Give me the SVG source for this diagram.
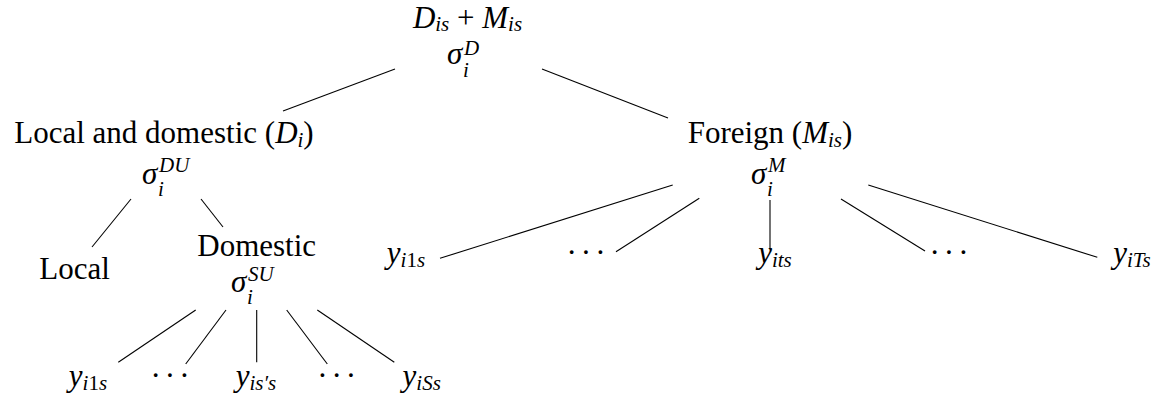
<svg xmlns="http://www.w3.org/2000/svg" width="1164" height="400" viewBox="0 0 1164 400">
<style>
.t{font-family:'Liberation Serif','DejaVu Serif','Times New Roman',serif;font-size:31px;fill:#000}
.m{font-style:italic}
.s{font-size:21px}
.u{font-style:normal}
.d{letter-spacing:4px}
.c line{stroke:#000;stroke-width:1.1;fill:none}
</style>
<rect width="1164" height="400" fill="#fff"/>
<g class="c" id="connectors">
<line x1="395" y1="69" x2="283" y2="111"/>
<line x1="542" y1="69" x2="668" y2="118"/>
<line x1="131" y1="199" x2="92" y2="247"/>
<line x1="201" y1="199" x2="223" y2="227"/>
<line x1="195.7" y1="310" x2="118.3" y2="362.3"/>
<line x1="226" y1="310" x2="185.7" y2="364"/>
<line x1="256.7" y1="310" x2="256.7" y2="362.3"/>
<line x1="286.7" y1="310" x2="327.3" y2="364"/>
<line x1="317.3" y1="310" x2="394.3" y2="362.3"/>
<line x1="672.7" y1="185" x2="440" y2="258.3"/>
<line x1="699.3" y1="198.3" x2="616" y2="251.7"/>
<line x1="770" y1="200" x2="770" y2="249"/>
<line x1="841" y1="199" x2="925" y2="251"/>
<line x1="868.3" y1="185" x2="1097.3" y2="257.3"/>
</g>
<g id="root" class="t">
<text x="467.5" y="28" text-anchor="middle"><tspan class="m">D</tspan><tspan class="m s" dy="3">is</tspan><tspan dy="-3"> + </tspan><tspan class="m">M</tspan><tspan class="m s" dy="3">is</tspan></text>
<text x="447" y="64" class="m">σ<tspan class="s" x="464" y="55">D</tspan><tspan class="s" x="463" y="77">i</tspan></text>
</g>
<g id="local-domestic" class="t">
<text x="164" y="143" text-anchor="middle">Local and domestic (<tspan class="m">D</tspan><tspan class="m s" dy="4">i</tspan><tspan dy="-4">)</tspan></text>
<text x="142" y="184" class="m">σ<tspan class="s" x="159" y="172">DU</tspan><tspan class="s" x="158" y="196">i</tspan></text>
</g>
<g id="foreign" class="t">
<text x="770" y="143" text-anchor="middle">Foreign (<tspan class="m">M</tspan><tspan class="m s" dy="4">is</tspan><tspan dy="-4">)</tspan></text>
<text x="751" y="184" class="m">σ<tspan class="s" x="768" y="172">M</tspan><tspan class="s" x="767" y="196">i</tspan></text>
</g>
<g id="local" class="t">
<text x="74.5" y="279" text-anchor="middle">Local</text>
</g>
<g id="domestic" class="t">
<text x="256.7" y="256" text-anchor="middle">Domestic</text>
<text x="231" y="292" class="m">σ<tspan class="s" x="248" y="281">SU</tspan><tspan class="s" x="247" y="304">i</tspan></text>
</g>
<g id="d-y-i1s" class="t"><text x="88" y="386" text-anchor="middle"><tspan class="m">y</tspan><tspan class="m s" dy="4">i<tspan class="u">1</tspan>s</tspan></text></g>
<g id="d-dots1" class="t"><text x="172" y="386" text-anchor="middle" class="d">···</text></g>
<g id="d-y-iss" class="t"><text x="256" y="386" text-anchor="middle"><tspan class="m">y</tspan><tspan class="m s" dy="4">is′s</tspan></text></g>
<g id="d-dots2" class="t"><text x="338.7" y="386" text-anchor="middle" class="d">···</text></g>
<g id="d-y-iSs" class="t"><text x="421.7" y="386" text-anchor="middle"><tspan class="m">y</tspan><tspan class="m s" dy="4">iSs</tspan></text></g>
<g id="f-y-i1s" class="t"><text x="406" y="263" text-anchor="middle"><tspan class="m">y</tspan><tspan class="m s" dy="4">i<tspan class="u">1</tspan>s</tspan></text></g>
<g id="f-dots1" class="t"><text x="588" y="263" text-anchor="middle" class="d">···</text></g>
<g id="f-y-its" class="t"><text x="775" y="263" text-anchor="middle"><tspan class="m">y</tspan><tspan class="m s" dy="4">its</tspan></text></g>
<g id="f-dots2" class="t"><text x="951" y="263" text-anchor="middle" class="d">···</text></g>
<g id="f-y-iTs" class="t"><text x="1132" y="263" text-anchor="middle"><tspan class="m">y</tspan><tspan class="m s" dy="4">iTs</tspan></text></g>
</svg>
